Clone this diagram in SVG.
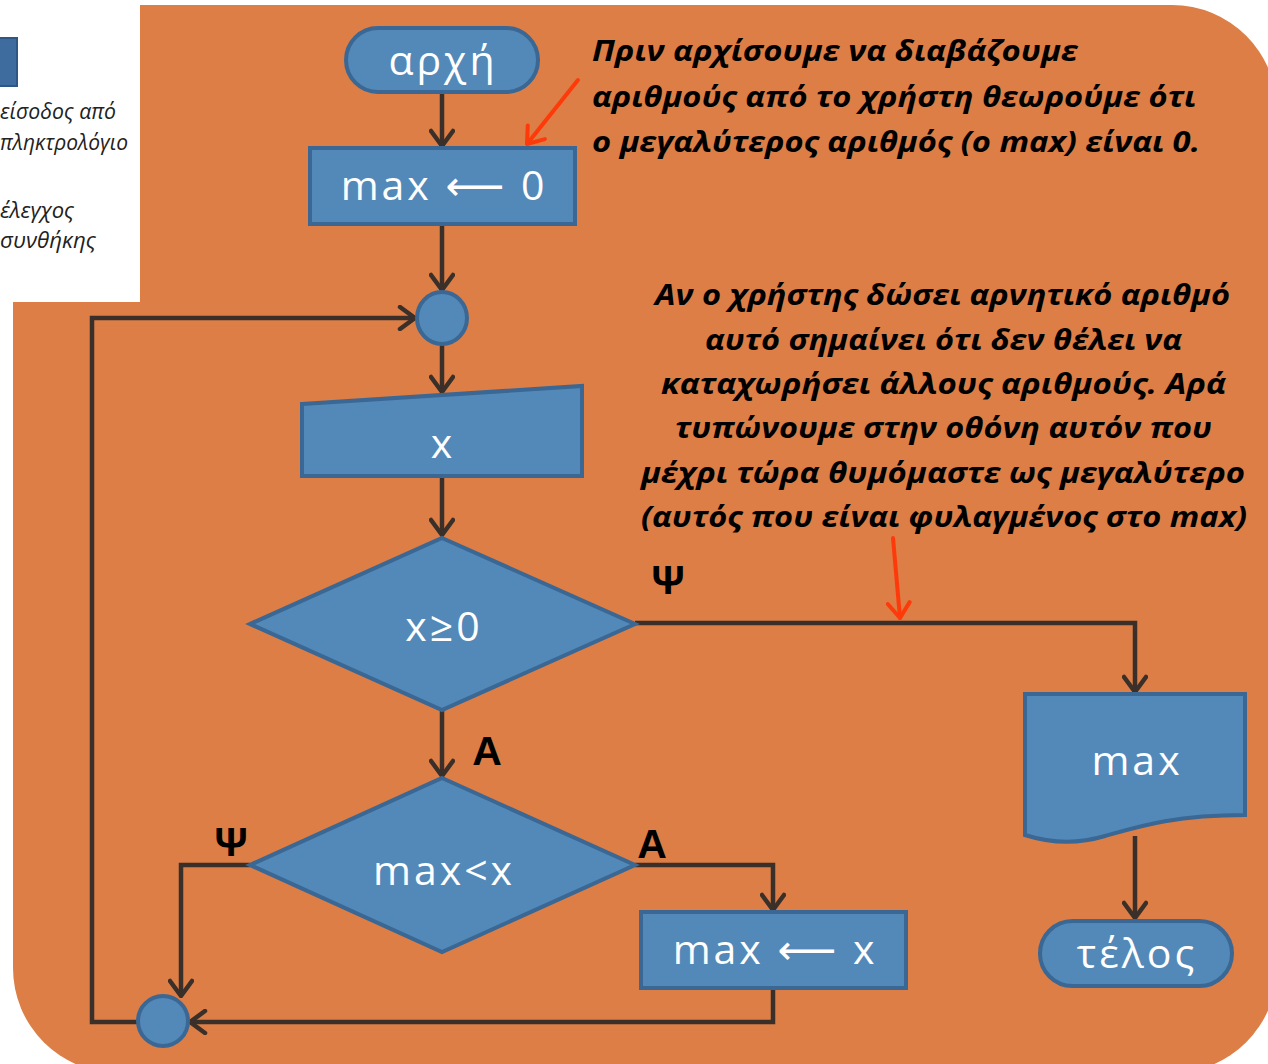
<svg xmlns="http://www.w3.org/2000/svg" width="1268" height="1064" viewBox="0 0 1268 1064">
  <style>
    .blk { fill: #5289B9; stroke: #3A6793; stroke-width: 4; }
    .lbl { fill: #ffffff; font-family: "Open Sans", "DejaVu Sans", sans-serif; font-size: 41px; text-anchor: middle; letter-spacing: 3px; }
    .wire { fill: none; stroke: #3B3029; stroke-width: 4.5; stroke-linejoin: miter; }
    .note { fill: #000000; font-family: "Open Sans", "Liberation Sans", sans-serif; font-size: 29px; font-weight: bold; font-style: italic; }
    .yn { fill: #000000; font-family: "Liberation Sans", "DejaVu Sans", sans-serif; font-size: 41px; font-weight: bold; text-anchor: middle; }
    .legend { fill: #222222; font-family: "Open Sans", "DejaVu Sans", sans-serif; font-size: 21px; font-style: italic; }
    .pointer { fill: none; stroke: #FF3A0A; stroke-width: 4; stroke-linecap: round; stroke-linejoin: round; }
  </style>
  <defs>
    <marker id="chev" markerUnits="userSpaceOnUse" viewBox="0 0 20 26" refX="18" refY="13" markerWidth="20" markerHeight="26" orient="auto">
      <path d="M3,2 L18,13 L3,24" fill="none" stroke="#3B3029" stroke-width="4.5" stroke-linecap="round" stroke-linejoin="round"/>
    </marker>
    <marker id="redchev" markerUnits="userSpaceOnUse" viewBox="0 0 20 26" refX="18" refY="13" markerWidth="20" markerHeight="26" orient="auto">
      <path d="M3,2 L18,13 L3,24" fill="none" stroke="#FF3A0A" stroke-width="4" stroke-linecap="round" stroke-linejoin="round"/>
    </marker>
  </defs>

  <!-- page and orange panel -->
  <rect x="0" y="0" width="1268" height="1064" fill="#ffffff"/>
  <rect x="13" y="5" width="1264" height="1068" rx="105" ry="105" fill="#DC7E46"/>

  <!-- legend strip (left) -->
  <g id="legend">
    <rect x="0" y="0" width="140" height="302" fill="#ffffff"/>
    <rect x="-10" y="38" width="27" height="48" fill="#3F6C9F" stroke="#2F5786" stroke-width="2"/>
    <text class="legend" x="0" y="119" textLength="116" lengthAdjust="spacingAndGlyphs">είσοδος από</text>
    <text class="legend" x="0" y="150" textLength="128" lengthAdjust="spacingAndGlyphs">πληκτρολόγιο</text>
    <text class="legend" x="0" y="218" textLength="74" lengthAdjust="spacingAndGlyphs">έλεγχος</text>
    <text class="legend" x="0" y="248" textLength="96" lengthAdjust="spacingAndGlyphs">συνθήκης</text>
  </g>

  <!-- connectors -->
  <g id="connectors">
    <path class="wire" d="M442,93 V146" marker-end="url(#chev)"/>
    <path class="wire" d="M442,225 V290" marker-end="url(#chev)"/>
    <path class="wire" d="M442,345 V392" marker-end="url(#chev)"/>
    <path class="wire" d="M442,477 V535" marker-end="url(#chev)"/>
    <path class="wire" d="M442,711 V776" marker-end="url(#chev)"/>
    <path class="wire" d="M635,623 H1135 V692" marker-end="url(#chev)"/>
    <path class="wire" d="M1135,836 V918" marker-end="url(#chev)"/>
    <path class="wire" d="M635,865 H773 V910" marker-end="url(#chev)"/>
    <path class="wire" d="M250,865 H181 V996" marker-end="url(#chev)"/>
    <path class="wire" d="M773,989 V1022 H190" marker-end="url(#chev)"/>
    <path class="wire" d="M138,1022 H92 V318 H415" marker-end="url(#chev)"/>
  </g>

  <!-- branch labels -->
  <g id="branch-labels">
    <text class="yn" x="668" y="594">Ψ</text>
    <text class="yn" x="487" y="765">Α</text>
    <text class="yn" x="652" y="858">Α</text>
    <text class="yn" x="231" y="856">Ψ</text>
  </g>

  <!-- nodes -->
  <g id="start">
    <rect class="blk" x="346" y="28" width="192" height="64" rx="32" ry="32"/>
    <text class="lbl" x="443" y="75">αρχή</text>
  </g>
  <g id="init-max">
    <rect class="blk" x="310" y="148" width="265" height="76"/>
    <text class="lbl" x="444" y="200">max ⟵ 0</text>
  </g>
  <g id="join-top">
    <ellipse class="blk" cx="442" cy="318" rx="25" ry="26"/>
  </g>
  <g id="read-x">
    <path class="blk" d="M302,404 L582,386 L582,476 L302,476 Z"/>
    <text class="lbl" x="443" y="458" font-size="40">x</text>
  </g>
  <g id="test-x">
    <path class="blk" d="M442,538 L635,624 L442,710 L250,624 Z"/>
    <text class="lbl" x="444" y="641">x≥0</text>
  </g>
  <g id="test-max">
    <path class="blk" d="M442,778 L635,865 L442,952 L250,865 Z"/>
    <text class="lbl" x="444" y="885">max&lt;x</text>
  </g>
  <g id="set-max">
    <rect class="blk" x="641" y="912" width="265" height="76"/>
    <text class="lbl" x="775" y="964">max ⟵ x</text>
  </g>
  <g id="join-bottom">
    <ellipse class="blk" cx="163" cy="1021" rx="25" ry="25"/>
  </g>
  <g id="print-max">
    <path class="blk" d="M1025,694 H1245 V815 C1175,815 1140,826 1105,836 C1075,845 1050,843 1025,835 Z"/>
    <text class="lbl" x="1137" y="775">max</text>
  </g>
  <g id="end">
    <rect class="blk" x="1040" y="921" width="192" height="65" rx="32.5" ry="32.5"/>
    <text class="lbl" x="1137" y="968">τέλος</text>
  </g>

  <!-- notes -->
  <g id="note-init">
    <text class="note" x="592" y="61" textLength="486" lengthAdjust="spacingAndGlyphs">Πριν αρχίσουμε να διαβάζουμε</text>
    <text class="note" x="592" y="107" textLength="604" lengthAdjust="spacingAndGlyphs">αριθμούς από το χρήστη θεωρούμε ότι</text>
    <text class="note" x="592" y="152" textLength="608" lengthAdjust="spacingAndGlyphs">ο μεγαλύτερος αριθμός (ο max) είναι 0.</text>
    <path class="pointer" d="M578,80 L527,144" marker-end="url(#redchev)"/>
  </g>
  <g id="note-exit">
    <text class="note" x="655" y="305" textLength="575" lengthAdjust="spacingAndGlyphs">Αν ο χρήστης δώσει αρνητικό αριθμό</text>
    <text class="note" x="705" y="350" textLength="477" lengthAdjust="spacingAndGlyphs">αυτό σημαίνει ότι δεν θέλει να</text>
    <text class="note" x="661" y="394" textLength="565" lengthAdjust="spacingAndGlyphs">καταχωρήσει άλλους αριθμούς. Αρά</text>
    <text class="note" x="675" y="438" textLength="537" lengthAdjust="spacingAndGlyphs">τυπώνουμε στην οθόνη αυτόν που</text>
    <text class="note" x="641" y="483" textLength="604" lengthAdjust="spacingAndGlyphs">μέχρι τώρα θυμόμαστε ως μεγαλύτερο</text>
    <text class="note" x="641" y="527" textLength="606" lengthAdjust="spacingAndGlyphs">(αυτός που είναι φυλαγμένος στο max)</text>
    <path class="pointer" d="M893,538 L900,618" marker-end="url(#redchev)"/>
  </g>
</svg>
